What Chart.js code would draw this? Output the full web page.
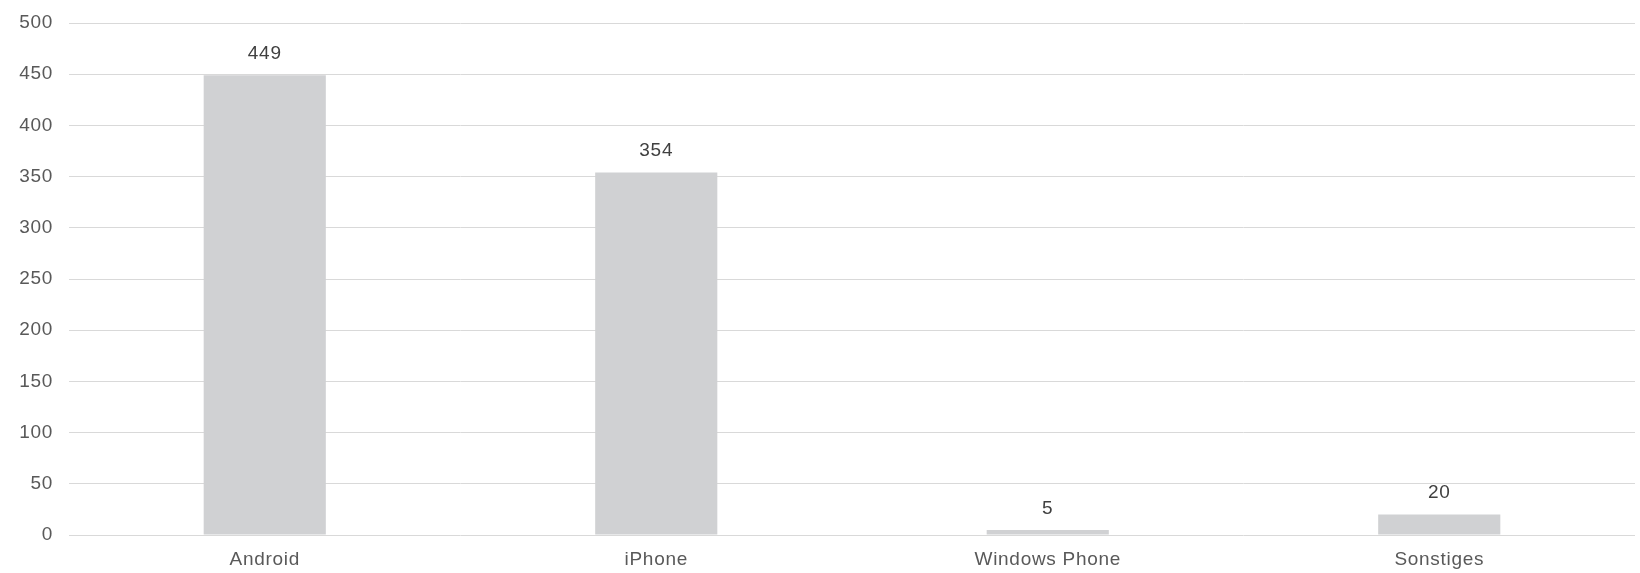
<!DOCTYPE html>
<html>
<head>
<meta charset="utf-8">
<script src="https://cdn.jsdelivr.net/npm/chart.js@4/dist/chart.umd.min.js"></script>
<style>
html,body{margin:0;padding:0;background:#fff;}
#wrap{width:1640px;height:573px;position:relative;}
</style>
</head>
<body>
<div id="wrap"><canvas id="c" width="1640" height="573"></canvas></div>
<script>
const categories = ["Android", "iPhone", "Windows Phone", "Sonstiges"];
const values = [449, 354, 5, 20];
const yTicks = [0, 50, 100, 150, 200, 250, 300, 350, 400, 450, 500];

const FONT = '"Liberation Sans", Arial, sans-serif';
const spacingPlugin = {
  id: 'spacing',
  beforeDraw(chart) { chart.ctx.letterSpacing = '0.7px'; }
};
const labelPlugin = {
  id: 'barLabels',
  afterDatasetsDraw(chart) {
    const ctx = chart.ctx;
    const meta = chart.getDatasetMeta(0);
    ctx.save();
    ctx.letterSpacing = '0.7px';
    ctx.font = '19px ' + FONT;
    ctx.fillStyle = '#404040';
    ctx.textAlign = 'center';
    ctx.textBaseline = 'middle';
    meta.data.forEach((bar, i) => {
      ctx.fillText(String(values[i]), bar.x, bar.y - 21.5);
    });
    ctx.restore();
  }
};

new Chart(document.getElementById('c'), {
  type: 'bar',
  data: {
    labels: categories,
    datasets: [{
      data: values,
      backgroundColor: '#d0d1d3',
      borderWidth: 0,
      categoryPercentage: 1,
      barPercentage: 0.312
    }]
  },
  options: {
    responsive: false,
    animation: false,
    devicePixelRatio: 1,
    layout: { padding: { top: 23, right: 5, left: 0, bottom: 0 } },
    plugins: { legend: { display: false }, tooltip: { enabled: false } },
    scales: {
      x: {
        grid: { display: false, drawTicks: false },
        border: { display: false },
        ticks: { color: '#595959', font: { family: FONT, size: 19 }, padding: 13, maxRotation: 0 },
        afterFit(s) { s.height = 38; s.paddingLeft = 0; s.paddingRight = 0; }
      },
      y: {
        min: 0, max: 500,
        afterBuildTicks(s) { s.ticks = yTicks.map(v => ({ value: v })); },
        grid: { color: '#d9d9d9', lineWidth: 1, drawTicks: false },
        border: { display: false },
        ticks: { color: '#595959', font: { family: FONT, size: 19 }, padding: 16 },
        afterFit(s) { s.width = 69; s.paddingTop = 0; s.paddingBottom = 0; }
      }
    }
  },
  plugins: [spacingPlugin, labelPlugin]
});
</script>
</body>
</html>
